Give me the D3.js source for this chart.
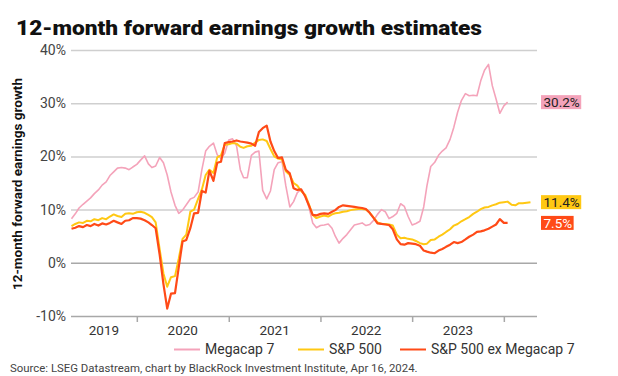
<!DOCTYPE html>
<head>
    <meta charset="UTF-8">
    <script src="https://d3js.org/d3.v7.min.js"></script>
    <style>
        body { margin: 0; background: #fff; }
        svg { font-family: Roboto, sans-serif; }
    </style>
</head>
<body>
    <div id="viz"></div>
    <script>
        // semi-monthly readings (16th and 1st of month), starting 16 Apr 2019
        const megacap = [
            8.3, 9.2, 10.3, 11.0, 11.6, 12.2, 13.0, 13.7, 14.6, 15.2,
            16.4, 17.1, 17.8, 17.9, 17.8, 17.5, 18.0, 18.5, 19.3, 20.1,
            18.6, 17.9, 18.2, 19.8, 18.8, 16.5, 13.3, 10.8, 9.3, 9.9,
            10.9, 12.0, 12.3, 13.3, 17.5, 21.0, 21.9, 22.5, 20.3, 19.6,
            20.6, 23.1, 23.3, 22.0, 17.5, 16.0, 16.0, 20.2, 20.8, 21.0,
            13.6, 12.0, 13.5, 17.5, 18.8, 19.0, 14.5, 10.5, 11.5, 13.2,
            13.8, 12.6, 10.5, 7.5, 6.6, 7.0, 7.1, 7.3, 6.5, 5.0,
            3.7, 4.6, 5.3, 6.2, 7.1, 7.3, 7.5, 7.0, 7.2, 8.0,
            9.1, 10.0, 9.6, 8.3, 8.7, 9.3, 11.1, 10.6, 8.7, 7.1,
            7.4, 7.8, 10.5, 14.5, 18.1, 18.9, 20.2, 21.0, 21.6, 23.2,
            25.5, 28.3, 30.5, 31.8, 31.4, 31.5, 31.4, 34.2, 36.2, 37.3,
            33.3, 30.8, 28.1, 29.5, 30.2
        ];
        const sp500 = [
            6.9, 7.3, 7.6, 7.5, 7.9, 7.8, 8.2, 8.0, 8.4, 8.2,
            8.7, 9.1, 8.8, 8.6, 9.2, 9.3, 9.2, 9.5, 9.6, 9.4,
            9.0, 8.6, 7.6, 2.5, -2.0, -4.5, -2.7, -2.5, 0.8, 4.5,
            5.3, 9.6, 10.0, 12.0, 13.8, 16.5, 17.5, 16.9, 19.8, 20.2,
            22.2, 22.3, 22.5, 22.4, 21.8, 21.6, 21.9, 22.0, 22.6, 23.1,
            23.2, 22.9, 21.4, 20.0, 19.6, 19.4, 17.2, 16.5, 15.0, 14.5,
            13.5, 12.8, 11.0, 9.0, 8.4, 8.7, 8.9, 8.7, 9.1, 9.3,
            9.4, 9.6, 9.7, 9.9, 10.0, 10.1, 10.1, 10.0, 9.4, 8.5,
            7.6, 7.3, 7.3, 7.2, 7.0, 5.3, 4.6, 4.7, 4.5, 4.4,
            4.1, 3.7, 3.5, 3.6, 4.3, 4.4, 4.9, 5.3, 5.8, 6.3,
            7.0, 7.3, 7.8, 8.2, 8.6, 9.2, 9.6, 10.1, 10.4, 10.5,
            10.8, 11.0, 11.3, 11.4, 11.5, 10.9, 10.8, 11.2, 11.2, 11.3,
            11.4
        ];
        const sp500ExMegacap = [
            6.4, 6.6, 6.9, 6.7, 7.1, 6.9, 7.3, 7.0, 7.4, 7.2,
            7.5, 7.9, 7.6, 7.3, 7.9, 8.0, 8.4, 8.4, 8.3, 8.0,
            7.6, 7.1, 6.5, 1.5, -4.0, -8.6, -5.8, -5.7, -0.8, 4.0,
            4.3, 6.5, 9.3, 9.4, 13.5, 13.2, 17.3, 15.4, 18.8, 19.0,
            22.5, 22.7, 22.8, 23.0, 22.8, 22.7, 22.6, 22.4, 22.0, 24.6,
            25.3, 25.8, 22.8, 21.0, 19.7, 19.8, 17.5, 16.8, 14.0, 13.7,
            13.8, 12.5, 10.8, 9.0, 8.9, 9.2, 9.3, 9.2, 9.6, 9.9,
            10.5, 10.8, 10.7, 10.6, 10.5, 10.4, 10.3, 10.1, 9.4, 8.4,
            7.4, 7.3, 7.2, 7.1, 6.3, 4.4, 3.5, 3.4, 3.7, 3.6,
            3.5, 3.2, 2.3, 2.1, 1.9, 1.8, 2.3, 2.6, 3.0, 3.4,
            3.9, 3.7, 3.9, 4.4, 4.9, 5.3, 5.8, 5.9, 6.1, 6.4,
            6.8, 7.2, 8.2, 7.5, 7.5
        ];
        const seriesNames = ["Megacap 7", "S&P 500", "S&P 500 ex Megacap 7"];
        const seriesColors = ["#f4a3ba", "#ffc813", "#ff4a17"];
        const yTicks = [-10, 0, 10, 20, 30, 40];
        const yearLabels = [2019, 2020, 2021, 2022, 2023];

        const dates = d3.range(121).map(i => i % 2
            ? new Date(Date.UTC(2019, 3 + (i + 1) / 2, 1))
            : new Date(Date.UTC(2019, 3 + i / 2, 16)));

        const width = 618, height = 376;
        const plotLeft = 71, plotRight = 537, plotTop = 50, plotBottom = 316;

        const svg = d3.select("#viz").append("svg")
            .attr("width", width)
            .attr("height", height);

        const x = d3.scaleUtc()
            .domain([new Date(Date.UTC(2019, 3, 14)), new Date(Date.UTC(2024, 4, 12))])
            .range([plotLeft, plotRight]);
        const y = d3.scaleLinear().domain([-10, 40]).range([plotBottom, plotTop]);

        // title
        svg.append("text")
            .attr("x", 16).attr("y", 35)
            .style("font-size", "20px").style("font-weight", 900)
            .attr("textLength", 466).attr("lengthAdjust", "spacingAndGlyphs")
            .attr("fill", "#111")
            .text("12-month forward earnings growth estimates");

        // y axis title
        svg.append("text")
            .attr("transform", `translate(22,${(plotTop + plotBottom) / 2 + 1}) rotate(-90)`)
            .attr("text-anchor", "middle")
            .style("font-size", "13.5px").style("font-weight", 700)
            .attr("fill", "#111")
            .text("12-month forward earnings growth");

        // gridlines + tick labels
        const yAxis = d3.axisLeft(y).tickValues(yTicks).tickSize(-(plotRight - plotLeft)).tickFormat(d => d + "%");
        const gy = svg.append("g").attr("transform", `translate(${plotLeft},0)`).call(yAxis);
        gy.select(".domain").remove();
        gy.selectAll(".tick line")
            .attr("stroke", d => d === 0 || d === -10 ? "#a8a8a8" : "#cfcfcf")
            .attr("stroke-width", 1.5);
        gy.selectAll(".tick text")
            .attr("x", -5)
            .style("font-size", "14px").style("font-family", "Roboto, sans-serif")
            .attr("fill", "#444");

        // x axis year ticks
        const yearStarts = [2020, 2021, 2022, 2023, 2024].map(yr => new Date(Date.UTC(yr, 0, 1)));
        const xAxis = d3.axisBottom(x).tickValues(yearStarts).tickSize(6).tickFormat("");
        const gx = svg.append("g").attr("transform", `translate(0,${plotBottom})`).call(xAxis);
        gx.select(".domain").remove();
        gx.selectAll(".tick line").attr("stroke", "#a8a8a8").attr("stroke-width", 1.5);

        svg.selectAll(".year")
            .data(yearLabels)
            .enter().append("text")
            .attr("class", "year")
            .attr("x", yr => {
                const a = Math.max(x(new Date(Date.UTC(yr, 0, 1))), plotLeft);
                const b = x(new Date(Date.UTC(yr + 1, 0, 1)));
                return (a + b) / 2;
            })
            .attr("y", 335)
            .attr("text-anchor", "middle")
            .style("font-size", "13.5px")
            .attr("fill", "#333")
            .text(d => d);

        // lines
        const allSeries = [megacap, sp500, sp500ExMegacap];
        const widths = [1.6, 2, 2.2];
        const line = d3.line()
            .x((d, i) => x(dates[i]))
            .y(d => y(d));

        allSeries.forEach((vals, k) => {
            svg.append("path")
                .datum(vals)
                .attr("fill", "none")
                .attr("stroke", seriesColors[k])
                .attr("stroke-width", widths[k])
                .attr("stroke-linejoin", "round")
                .attr("d", line);
        });

        // end value labels
        allSeries.forEach((vals, k) => {
            const last = vals[vals.length - 1];
            const g = svg.append("g").attr("transform", `translate(541,${y(last)})`);
            const txt = g.append("text")
                .attr("x", 2.5).attr("dy", "0.36em")
                .style("font-size", "13.5px")
                .attr("fill", k === 2 ? "#fff" : "#222")
                .text(last.toFixed(1) + "%");
            const w = txt.node().getComputedTextLength();
            g.insert("rect", "text")
                .attr("x", 0).attr("y", -7)
                .attr("width", w + 4).attr("height", 14)
                .attr("fill", seriesColors[k]);
        });

        // legend
        const legendX = [174, 298, 400];
        const lg = svg.append("g").attr("transform", "translate(0,349.5)");
        seriesNames.forEach((name, k) => {
            lg.append("line")
                .attr("x1", legendX[k]).attr("x2", legendX[k] + 26)
                .attr("stroke", seriesColors[k]).attr("stroke-width", 2);
            lg.append("text")
                .attr("x", legendX[k] + 31).attr("dy", "0.35em")
                .style("font-size", "14px")
                .attr("fill", "#333")
                .text(name);
        });

        // source
        svg.append("text")
            .attr("x", 10).attr("y", 372)
            .style("font-size", "11.4px")
            .attr("fill", "#444")
            .text("Source: LSEG Datastream, chart by BlackRock Investment Institute, Apr 16, 2024.");
    </script>
</body>
</html>
